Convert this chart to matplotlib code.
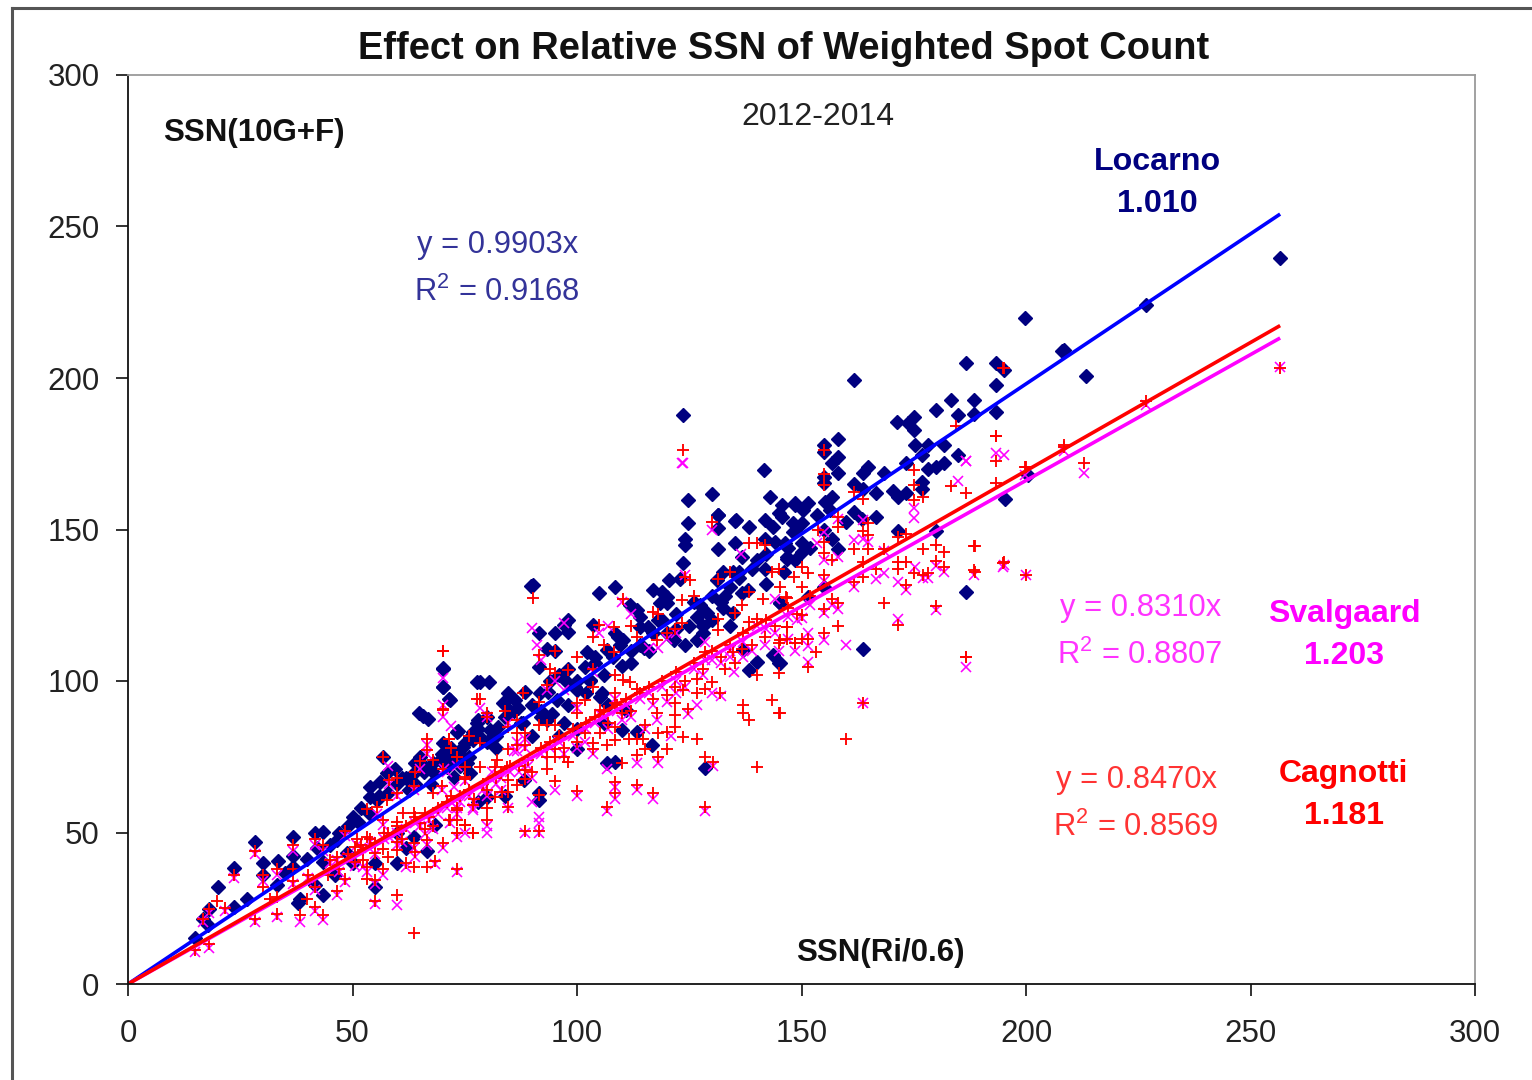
import matplotlib
matplotlib.use("Agg")
from matplotlib import pyplot as plt
from matplotlib.lines import Line2D

locarno_x = [70.1, 70.2, 71.6, 64.7, 66.9, 65.6, 73.4, 70.1, 56.9, 65, 64, 59.5, 57.6, 63.6, 53.9, 56.1, 53.9, 55.4, 68, 69.5, 71.7,
             50.2, 51.3, 43.5, 41.6, 36.8, 46.5, 28.3, 23.5, 20, 30.1, 33.3, 36.8, 30.1, 35, 36.8, 39.8, 43.5, 48.7, 26.4, 23.5, 18.1, 16.8, 17.9, 14.9,
             33.1, 38.3, 37.9, 43.5, 41.6, 55, 55, 59.8, 66.5, 68.4, 63.6, 77.7, 77.7, 76.2, 74.7,
             90.1, 105, 108.5, 124.8, 124.8, 131.5, 131.5, 135.2, 138.2, 124.1, 124.1, 135.2, 131.5, 123.7, 141.9, 143.7, 144.9, 148.6, 141.9, 148.2, 146.7, 141.9, 136.7,
             132.6, 134.8, 120.4, 117, 118.9, 123, 120, 120, 111.8, 113.3, 114, 115.9, 109.2, 110.3, 108.5, 109.6, 98.1, 97, 98.1, 95.1, 91.5, 103.6, 93.3, 95.1, 102.2, 104, 106.6,
             91.5, 101.8, 78.4, 80.3, 70.2, 70.2, 71.7, 84.7, 88.4, 83.6, 86.2, 86.9, 91.8, 93.6, 97.7, 78, 73.2, 76.9, 80.6, 82.5, 75.1, 76.9, 78.8, 70.2, 71, 72.5, 76.2,
             93.3, 99.9, 110, 113.3, 116.6, 106.6, 108.5, 128.5, 91.5, 91.5, 79.9, 88.1, 140, 143.7, 144.9, 138.2, 145.2, 137, 126.7, 128.1, 126.7, 128.9, 132.6, 134.8, 136.7, 134.1, 131.1,
             121.5, 118.5, 117, 114, 105.1, 111, 98.1, 99.6, 95.5, 102.9,
             161.7, 186.6, 193.3, 195.1, 208.5, 193.3, 183.4, 188.4, 179.9, 184.9, 188.4, 193.3, 171.3, 175, 173.8, 175, 175.3, 178.2, 181.8, 176.8, 184.9,
             158.2, 155, 155, 158.2, 156.9, 158.2, 155, 155, 164.9, 163.6, 168.4, 173.3, 178.2, 179.9, 181.8, 176.8, 176.8, 161.7, 163.6, 166.7, 170.4, 171.6, 173.3,
             148.5, 151.5, 150.4, 153.4, 155.2, 156.9, 156.3, 145.6, 145.6, 150.2, 148.5, 154.9, 156.9, 150.2, 150.2, 158.2, 146.7, 148.5, 146.3, 161.7, 160, 166.7, 163.4, 171.6, 179.9,
             200.5, 195.3, 186.6, 163.6, 154.9, 151.5, 145.2, 145.2, 256.6, 226.7, 213.4, 199.8, 208, 123.6, 130, 141.6, 89.8, 143, 135.4, 131.4,
             61, 62.5, 66, 67.5, 72, 74, 75.5, 77, 80, 82, 85, 87.5, 90, 92, 94.5, 97, 100, 103, 105.5, 107, 112, 115, 119, 122, 125, 127.5, 130, 133, 136, 139, 142, 147]
locarno_y = [104.2, 97.9, 93.9, 89.5, 87.6, 88.6, 83.6, 79.4, 75, 75, 72.8, 71.1, 69.5, 69.5, 65.1, 66.7, 61.8, 60.7, 72.8, 73.9, 72.8,
             55.2, 53.5, 50.2, 49.9, 48.6, 47.5, 46.7, 38.4, 31.9, 40, 40.7, 42.2, 36, 36.5, 38.6, 41.4, 40.3, 43.1, 27.9, 25.5, 24.9, 21.6, 19.4, 15.3,
             32.6, 28.2, 26.6, 29.3, 32.6, 32.1, 39.8, 40, 44, 52.4, 48.6, 99.8, 86, 81.6, 78.3,
             131.7, 128.9, 130.9, 152, 159.7, 154.7, 150.4, 152.9, 150.7, 147, 144.9, 145.6, 143.4, 138.8, 153, 150.9, 155.3, 158, 147, 149.2, 140.4, 137.1, 141,
             136, 136, 133.3, 130, 129.4, 133.8, 127.8, 125.6, 125, 123.4, 121.2, 117.9, 114.6, 113.5, 115.7, 111.8, 120.1, 118.4, 116.2, 115.7, 115.7, 118.4, 110.7, 110, 109.6, 108, 110.2,
             104.5, 104.7, 99.7, 99.7, 104.1, 98.1, 93.7, 95.9, 96.4, 92.6, 93.7, 91, 95.9, 96.4, 99.7, 87.1, 83.3, 83.3, 83.8, 84.9, 79.4, 80.5, 81, 75, 71.7, 68.4, 69.5,
             87.1, 77.7, 83.8, 83.2, 78.8, 72.8, 73.3, 71.4, 62.9, 60.7, 61.8, 67.3, 106.3, 108.5, 105.8, 103.6, 125.6, 110.2, 113.5, 115.7, 121.2, 122.3, 124, 122.3, 128.9, 131.1, 133.3,
             113.5, 125.6, 115.7, 117.9, 94.8, 90.4, 92, 98.1, 93.7, 100.3,
             199.5, 204.8, 204.8, 202.8, 209.4, 197.6, 192.9, 192.9, 189.6, 187.8, 188.1, 188.8, 185.5, 187.2, 185, 183, 177.8, 177.8, 177.8, 174.5, 174.5,
             179.8, 177.8, 175.6, 174, 171.8, 168.5, 167.4, 165.2, 170.7, 168.5, 168.5, 172, 170.1, 170.7, 171.8, 165.7, 163.5, 165, 163.5, 161.9, 162.8, 160.8, 161.9,
             158.6, 158.6, 156.4, 154.7, 159.1, 160.8, 156.4, 158, 154.2, 152, 149.6, 150, 147, 145.6, 142.6, 143.7, 141, 139.9, 145.4, 155.8, 152.5, 154, 153.6, 149.6, 149.6,
             168, 160.2, 129.4, 110.4, 130.9, 127.8, 125.6, 105.8, 239.6, 224, 200.7, 219.8, 209, 187.8, 161.7, 169.6, 131.4, 160.7, 153, 154.8,
             68, 64, 70, 66, 78, 76, 73, 82, 88, 78, 90, 86, 82, 88, 89, 86, 97, 100, 96, 92, 106, 111, 120, 117, 118, 125, 120, 128, 134, 137, 142, 144]

# extra marks read from the crowded part of the cloud
locarno_core_x = [42, 45, 47, 49, 52, 54, 56, 58, 60, 62, 64, 66, 68, 70, 72, 74, 76, 78, 80, 82, 84, 86, 88, 90, 92, 94, 96, 98, 100, 102, 104, 106, 108, 110, 112, 114, 116, 118, 120,
                  122, 124, 126, 128, 130, 132, 134, 136, 138, 140, 142, 144, 146, 148, 152, 60, 62, 50, 46, 84, 78, 96, 100, 106]
locarno_core_y = [45, 46, 50, 52, 58, 56, 62, 63, 66, 68, 66, 72, 70, 76, 75, 72, 75, 84, 80, 82, 88, 90, 86, 92, 90, 100, 102, 104, 100, 96, 106, 102, 108, 105, 110, 112, 110, 120, 116,
                  122, 112, 126, 118, 128, 126, 118, 136, 130, 140, 132, 146, 136, 152, 144, 50, 45, 40, 36, 62, 60, 82, 84, 86]

cagnotti_x = [195.1, 193.3, 184.5, 193.3, 155, 155, 155, 175, 175, 175, 177, 183.4, 186.6, 193.3, 200.1, 208.5, 161.7, 163.6, 158.2, 158.2, 164.9, 163.6, 164.9, 161.7, 164.9,
              155, 155, 156.9, 153.7, 168.4, 171.6, 173.3, 177, 179.9, 181.7, 179.9, 181.7, 188.4, 188.4, 195.1, 200, 171.6, 171.6, 173.3, 175, 177, 178.2, 173.3, 166.7, 163.6, 163.6, 161.7,
              150.2, 151.5, 148.3, 150.2, 155, 146.5, 156.9, 158.2, 155, 150.2, 168.4, 179.9, 171.6, 158.2, 146.7, 146.7, 148.5, 150.2, 151.5, 155, 153.2, 151.5, 186.6, 163.6, 160, 145.2, 145.2, 145.2,
              70.2, 130, 138.2, 140, 141.9, 90.1, 110.2, 117, 104.8, 108.3, 103.5, 113.4, 91.5, 95.1, 108.3, 117.8, 120, 121.8, 123.3, 124.1, 125.2, 123.3, 131.5, 144.9, 143.4, 138.2, 141.5,
              136.7, 135.2, 131.5, 131.5, 140, 138.2, 146.7, 146.7, 141.9, 144.9, 148.6, 136.7, 134.8, 135.2, 133, 128.5, 126.7, 123.7, 140, 144.9, 130, 128.5, 131.9, 126.7, 121.8, 120, 121.8, 124.8,
              136.9, 136.9, 138.2, 143.5, 144.9, 121.8, 117.8, 121.8, 120, 118.1, 115.2, 123.7, 126.7, 120, 115.2, 113.3, 118.1, 128.5, 130.4, 140, 128.5, 117, 113.3, 108.5, 108.5, 106.6, 99.9, 95.1, 91.5,
              88.4, 91.5, 79.9, 84.7, 79.9, 76.9, 76.9, 73.2, 73.2, 75.1, 71.4, 73.2, 78.3, 79.9, 70.2, 71.4, 78.3, 73.2, 70.2, 75.1, 75.1, 78.4, 82.1, 84.7, 86.6, 88.4, 86.6, 88.4, 84.7, 86.6,
              91.5, 91.5, 93.3, 95.1, 93.3, 95.1, 98.1, 103.5, 103.5, 108.5, 110.3, 111.8, 113.3, 108.5, 99.9, 101.8, 99.9, 105.1, 108.5, 110, 101.8, 105.1, 108.5, 108.5, 103.6, 103.6, 106.6, 110,
              111.5, 113.3, 114.8, 93.3, 95.1, 95.1, 97, 98.1, 93.3, 88.4, 88.4, 86.6, 84.7, 84.7, 83.2, 81.7, 81.7, 84.3,
              70.1, 70.1, 71.6, 66.5, 66.5, 56.9, 65, 73.2, 77.7, 70.1, 58.2, 63.6, 60, 53.2, 57.6, 55.4, 48.3, 41.6, 43.5, 36.8, 28.3, 23.5, 30.1, 30.1, 19.8, 18.1, 16.8, 21.7, 33.1, 36.8, 36.8, 46.5,
              40.2, 44.6, 41.6, 39.8, 41.6, 43.5, 38.3, 33.1, 33.1, 31.6, 28.3, 18.1, 14.9, 48.3, 46.5, 53.2, 53.2, 55, 55, 56.9, 60, 63.6, 63.6, 66.5, 68.4, 70.1, 73.2, 76.9, 73.2, 75.1, 71.7, 73.2, 76.9,
              75.1, 69.9, 68, 63.6, 66.2, 66.2, 66.5, 63.6, 64, 59.8, 59.8, 59.8, 56.9, 58, 55, 55, 50.5, 52.4, 52.4, 50.5, 61.3, 56.9, 53.2, 62,
              226.7, 213, 208.5, 199.8, 194.9, 188.6, 188.6, 186.6, 193.3, 256.6, 194.9, 123.6]
cagnotti_y = [203.2, 180.8, 184.1, 172.7, 176.4, 168.3, 164.6, 169.8, 164.6, 159.7, 160.6, 164.3, 161.9, 165.4, 170.7, 177.8, 162.4, 160.2, 154.2, 150.7, 152.2, 149.6, 148.1, 143.4, 143.4,
              146, 142.1, 139.9, 150, 143.4, 147.6, 148.5, 143.4, 144.8, 142.6, 139.7, 137.5, 144.5, 136.6, 139.3, 135, 139.3, 136.8, 139.3, 135.5, 134.9, 135.5, 131.6, 137.1, 139.3, 134.2, 132.7,
              137.5, 135.5, 134.2, 130.9, 135, 127.8, 127.2, 125.6, 123.6, 121.7, 125.6, 124.7, 118.4, 118.1, 117.9, 113.7, 112.6, 113.7, 113.7, 115.7, 109.6, 104.7, 108, 92.6, 80.7, 131.1, 113.5, 89.3,
              109.9, 152.5, 145.4, 145.4, 144.9, 127.5, 127, 122.8, 118.4, 117.7, 114.4, 114.4, 108.5, 110, 109.6, 113.5, 115.7, 117.3, 119, 134.4, 133.3, 126.7, 133.8, 137.1, 136, 129.4, 127,
              125, 122.3, 120.6, 116.8, 120.6, 119.5, 117.7, 127.3, 114.6, 112.4, 112.4, 110.7, 109.6, 105.8, 104.1, 109.6, 100.8, 97, 102, 102.5, 99.7, 97.5, 96.1, 95.9, 98.1, 95.3, 92.6, 90.6,
              92, 89.3, 87.1, 93.7, 89.3, 88.7, 89.3, 84.9, 83.2, 82.7, 85.4, 81.6, 80.7, 77.7, 77.7, 75.5, 75, 75, 73.3, 71.7, 58.5, 62.9, 65.6, 66.7, 62.9, 58.5, 63.7, 66.9, 62.3,
              50.5, 50.5, 54.1, 58.5, 58, 59, 50, 50, 54.1, 52.4, 54.1, 58, 93.9, 89.3, 90.4, 80.7, 79.4, 75, 71.1, 71.7, 67.8, 71.7, 73.9, 77.7, 82.7, 82.7, 78.8, 78.8, 84.9, 87.1,
              93.1, 85.4, 85.4, 85.4, 98.7, 102.5, 103.6, 104.1, 98.1, 102, 100.3, 99.7, 97.5, 95.9, 92.6, 93.7, 89.3, 90.4, 92.6, 89.3, 82.7, 82.7, 84.9, 80.5, 79.4, 77.7, 78.8, 72.8,
              81, 81, 80.7, 75, 77.7, 75, 75, 73.3, 71.1, 70.6, 67.8, 65.6, 67.3, 63.4, 63.4, 61.8, 71.7, 71.7,
              109.9, 90.6, 80.8, 80.8, 77.2, 75, 73.7, 75, 93.9, 71.1, 67.3, 65.4, 63.1, 57.6, 60.7, 58.5, 50.6, 47.7, 45.8, 45.8, 44, 36, 36, 31.9, 27.5, 24.9, 21.6, 25, 38.1, 38.1, 34.1, 42,
              36, 36, 31.9, 28.2, 25.5, 22.7, 22.7, 23, 28.8, 28.2, 21.6, 13.2, 11.2, 34.8, 30.8, 38.7, 34.8, 34.3, 27.5, 37.8, 29.3, 16.7, 38.5, 38.5, 40.7, 46.6, 37.8, 49.9, 49.9, 52.4, 54.1, 57.4, 59,
              68.4, 65.3, 62.9, 56.3, 56.3, 51.3, 47.5, 46.4, 43.6, 53.5, 47, 44.2, 44.7, 42, 46.4, 43.1, 45.3, 44.2, 40.9, 40.3, 56.3, 54.1, 48.6, 40,
              192.4, 172, 177.2, 170.6, 138.9, 144.6, 136, 108, 181, 203.3, 203.3, 176.2]

cagnotti_core_x = [45, 47, 49, 51, 52, 54, 57, 58, 60, 61, 62, 64, 65, 67, 68, 69, 71, 72, 74, 76, 77, 79, 80, 82, 83, 85, 87, 89, 90, 92, 94, 96, 97, 99, 100, 102, 104, 106, 107, 109, 111, 112,
                   114, 116, 117, 119, 122, 124, 126, 128, 130, 132, 134, 137, 139, 142, 144, 147, 149, 152, 60, 64, 68, 72, 76, 80, 84, 88, 94, 100, 106, 112, 118, 126, 134]
cagnotti_core_y = [41, 38, 43, 48, 46, 48, 50, 50, 52, 48, 52, 55, 53, 55, 52, 58, 60, 62, 62, 64, 61, 66, 64, 68, 70, 72, 72, 74, 70, 78, 80, 82, 78, 84, 80, 86, 88, 90, 86, 92, 94, 90,
                   96, 98, 94, 100, 103, 100, 106, 104, 110, 108, 112, 116, 112, 120, 118, 124, 122, 128, 68, 70, 74, 78, 82, 88, 90, 96, 104, 108, 112, 118, 122, 128, 136]

svalgaard_x = [256.6, 226.7, 213, 208.5, 199.8, 186.6, 193.3, 195.1, 186.6, 184.9, 175, 175, 194.9, 188.4, 195.1, 200, 179.9, 171.6, 159.9, 151.5, 155, 151.5, 186.6, 163.6,
               171.6, 166.7, 168.4, 175.3, 161.7, 164.9, 163.6, 161.7, 153.4, 155, 155, 158.2, 163.6, 158.2, 155, 156.9, 158.2, 155, 150.2, 151.5, 178.2, 177, 181.7, 179.9, 168.4, 173.3,
               130, 123.4, 123.6, 90, 110, 112, 105, 97, 91, 92, 107, 116, 118, 120, 122, 124, 136.5, 137, 144, 145, 147, 148.6, 141.9, 140, 134, 135, 128.5, 128.5, 130, 132, 126.7,
               124.8, 122, 120, 117.8, 115.2, 113.3, 118, 121, 130.4, 128.5, 117, 113.3, 108.5, 108.5, 106.6, 99.9, 95.1, 91.5, 91.5, 88.4, 91.5, 79.9, 84.7, 76.9, 73.2, 79.9, 75.1, 71, 70.3, 72.5,
               78.3, 79.9, 70.2, 86.6, 88.4, 86.6, 88.4, 84.7, 93.3, 95.1, 97, 99.9, 103.5, 108.5, 110, 105.1, 101.8, 103.6, 106.6,
               70.1, 70.1, 72, 66.5, 66.5, 58, 65, 73.2, 69.9, 58.2, 63.6, 60, 55.4, 48.3, 41.6, 43.5, 36.8, 28.3, 23.5, 30.1, 18.1, 16.8, 21.7, 33.1, 36.8, 46.5, 40.2, 41.6, 41.6, 43.5, 38.3, 33.1,
               28.3, 18.1, 14.9, 48.3, 46.5, 53.2, 55, 55, 56.9, 60, 75, 71.7, 73.2, 76.9, 73.2, 63.6, 66.5, 68.4, 70.1, 73.2, 66.2, 59.8, 56.9, 55, 52.4, 50.5, 62, 64, 81, 83, 86, 90]
svalgaard_y = [203.5, 191, 168.6, 176, 168, 172.7, 175.1, 174.5, 172.7, 166, 157, 153.9, 137.5, 135, 138.2, 135, 123.4, 120.3, 111.8, 106.3, 113.5, 115.7, 104.5, 92.6,
               132.7, 133.8, 135.5, 137.7, 131.1, 146, 147, 146.5, 145.4, 149.3, 139.9, 141, 153, 153.6, 133, 125, 123.8, 122.6, 120.7, 111.5, 134, 134, 136, 138, 143, 130,
               150, 172, 172, 117.5, 126, 122, 116, 119, 112, 107, 118, 111, 111, 114, 116, 135, 142, 108, 127, 110, 114, 110, 112, 118, 108, 103, 107, 113, 96, 95, 92,
               89, 96, 93, 87, 84, 73, 73, 82, 72, 57, 61, 64, 65, 61, 57, 62, 64, 55, 53, 50, 50, 52, 58, 58, 58, 50, 50, 70, 71, 65,
               91, 88, 92, 80, 81, 77, 78, 86, 97, 100, 97, 91, 103, 94, 87, 89, 80, 76, 71,
               101, 88, 85, 79, 76, 72, 71, 72, 64, 66, 64, 62, 56, 49, 46, 44, 44, 43, 35, 34, 23.5, 20.5, 24, 22, 33, 41, 35, 31, 24, 21, 20.5, 36,
               20.5, 12, 10.5, 33.5, 29.5, 37, 33, 26.5, 36, 26, 67, 53, 56, 57.5, 48.5, 45, 46, 39.5, 45, 37, 49.5, 46, 52.5, 43, 38.5, 39, 38.5, 42, 70, 64, 77, 60]

svalgaard_core_x = [45, 47, 49, 51, 52, 54, 57, 58, 60, 61, 62, 64, 65, 67, 68, 69, 71, 72, 74, 76, 77, 79, 80, 82, 83, 85, 87, 89, 90, 92, 94, 96, 97, 99, 100, 102, 104, 106, 107, 109, 111, 112,
                    114, 116, 117, 119, 122, 124, 126, 128, 130, 132, 134, 137, 139, 142, 144, 147, 149, 152]
svalgaard_core_y = [40, 37, 42, 46, 45, 47, 48, 49, 50, 47, 51, 53, 52, 54, 51, 56, 58, 60, 60, 62, 60, 64, 62, 66, 68, 70, 70, 72, 68, 76, 78, 80, 76, 82, 78, 84, 86, 88, 84, 90, 92, 88,
                    94, 96, 92, 98, 100, 98, 104, 102, 107, 106, 110, 113, 110, 117, 116, 121, 120, 125]

trend_x = [0, 256.6]
locarno_trend = [0, 254.1]
svalgaard_trend = [0, 213.2]
cagnotti_trend = [0, 217.3]
ticks = [0, 50, 100, 150, 200, 250, 300]

plt.rcParams["font.family"] = ["Liberation Sans", "DejaVu Sans"]
plt.rcParams["mathtext.default"] = "regular"

fig = plt.figure(figsize=(15.32, 10.8), dpi=100)
ax = fig.add_axes([128 / 1532, 1 - 984 / 1080, (1475 - 128) / 1532, (984 - 75) / 1080])

ax.plot(locarno_x + locarno_core_x, locarno_y + locarno_core_y, ls="", marker="D", ms=7.4, color="#000080", clip_on=False)
ax.plot(svalgaard_x + svalgaard_core_x, svalgaard_y + svalgaard_core_y, ls="", marker="x", ms=6.8, mew=1.15, color="#FF00FF")
ax.plot(cagnotti_x + cagnotti_core_x, cagnotti_y + cagnotti_core_y, ls="", marker="+", ms=8, mew=1.35, color="#FF0000")
ax.plot(trend_x, locarno_trend, color="#0000FF", lw=2.6, solid_capstyle="butt")
ax.plot(trend_x, svalgaard_trend, color="#FF00FF", lw=2.6, solid_capstyle="butt")
ax.plot(trend_x, cagnotti_trend, color="#FF0000", lw=2.6, solid_capstyle="butt")

ax.set_xlim(0, 300)
ax.set_ylim(0, 300)
ax.set_xticks(ticks)
ax.set_yticks(ticks)
ax.tick_params(labelsize=22.5, length=8.5, width=1.3, pad=12, colors="#222222")
ax.tick_params(axis="x", pad=17)
for side in ["left", "bottom"]:
    ax.spines[side].set_color("#111111")
    ax.spines[side].set_linewidth(1.3)
for side in ["top", "right"]:
    ax.spines[side].set_color("#9a9a9a")
    ax.spines[side].set_linewidth(1.3)

ax.text(146, 308.6, "Effect on Relative SSN of Weighted Spot Count", fontsize=27.4, fontweight="bold", ha="center", va="center", color="#111111")
ax.text(153.7, 286, "2012-2014", fontsize=23, ha="center", va="center", color="#222222")
ax.text(7.8, 281, "SSN(10G+F)", fontsize=22.5, fontweight="bold", ha="left", va="center", color="#111111")
ax.text(167.5, 10.3, "SSN(Ri/0.6)", fontsize=22.5, fontweight="bold", ha="center", va="center", color="#111111")

ax.text(229.2, 271.3, "Locarno", fontsize=23.2, fontweight="bold", ha="center", va="center", color="#000080", clip_on=False)
ax.text(229.2, 257.4, "1.010", fontsize=23.2, fontweight="bold", ha="center", va="center", color="#000080")
ax.text(82.4, 243.9, "y = 0.9903x", fontsize=22.2, ha="center", va="center", color="#333399")
ax.text(82.2, 228.4, "R$^2$ = 0.9168", fontsize=22.2, ha="center", va="center", color="#333399")

ax.text(270.8, 122.1, "Svalgaard", fontsize=23, fontweight="bold", ha="center", va="center", color="#FF00FF")
ax.text(270.8, 108.2, "1.203", fontsize=23, fontweight="bold", ha="center", va="center", color="#FF00FF")
ax.text(225.6, 124.1, "y = 0.8310x", fontsize=22.2, ha="center", va="center", color="#FF33FF")
ax.text(225.4, 108.6, "R$^2$ = 0.8807", fontsize=22.2, ha="center", va="center", color="#FF33FF")

ax.text(270.6, 69.3, "Cagnotti", fontsize=23, fontweight="bold", ha="center", va="center", color="#FF0000")
ax.text(270.8, 55.4, "1.181", fontsize=23, fontweight="bold", ha="center", va="center", color="#FF0000")
ax.text(224.5, 67.3, "y = 0.8470x", fontsize=22.2, ha="center", va="center", color="#FF3333")
ax.text(224.5, 51.8, "R$^2$ = 0.8569", fontsize=22.2, ha="center", va="center", color="#FF3333")

# outer chart frame, runs off the right and bottom of the image
fig.add_artist(Line2D([12 / 1532, 12 / 1532], [0, 1 - 8 / 1080], color="#555555", lw=2.2))
fig.add_artist(Line2D([12 / 1532, 1], [1 - 8 / 1080, 1 - 8 / 1080], color="#555555", lw=2.2))

fig.savefig("out.png", dpi=100)
